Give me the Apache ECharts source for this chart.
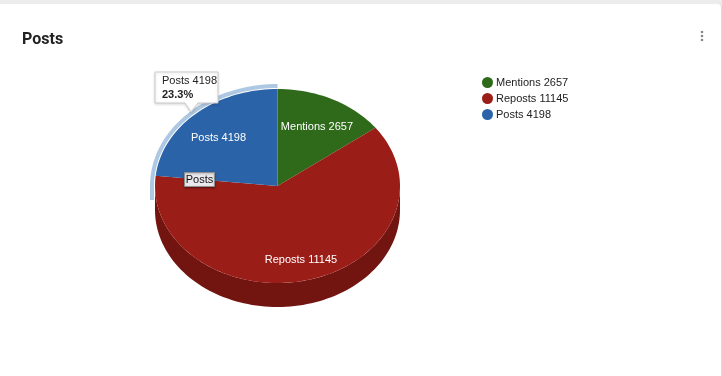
<!DOCTYPE html>
<html>
<head>
<meta charset="utf-8">
<script src="https://cdn.jsdelivr.net/npm/echarts@6/dist/echarts.min.js"></script>
<style>
  html, body { margin: 0; padding: 0; background: #ececec; }
  .card {
    position: absolute; left: -2px; top: 4px; width: 723px; height: 380px;
    background: #fff; border-right: 1px solid #dcdcdc; border-radius: 4px;
  }
  #chart { position: absolute; left: 0; top: 0; width: 722px; height: 376px; }
</style>
</head>
<body>
<div class="card"></div>
<div id="chart"></div>
<script>
// slice data
var names = ["Mentions", "Reposts", "Posts"];
var values = [2657, 11145, 4198];
var colors = ["#2e6a1a", "#9b1d18", "#2a63a8"];
var sideColors = ["#1f4a12", "#721510", "#1d4677"];
var hoverIndex = 2;

var total = values.reduce(function (a, b) { return a + b; }, 0);
var starts = [];
var acc = 0;
values.forEach(function (v) { starts.push(acc); acc += v; });

// pie geometry (pixels)
var cx = 277.5, cy = 186, rx = 122.5, ry = 97, depth = 24;

function pt(deg, ox, oy, dy) {
  var t = deg * Math.PI / 180;
  return [cx + ox * Math.sin(t), cy + (dy || 0) - oy * Math.cos(t)];
}
function arc(a0, a1, ox, oy, dy) {
  var pts = [];
  var n = Math.max(2, Math.ceil(Math.abs(a1 - a0) / 2));
  for (var i = 0; i <= n; i++) {
    pts.push(pt(a0 + (a1 - a0) * i / n, ox, oy, dy));
  }
  return pts;
}

function renderSlice(idx) {
  return function (params, api) {
    var a0 = api.value(0) / total * 360;
    var a1 = (api.value(0) + api.value(1)) / total * 360;
    var children = [];
    // side wall (front half only)
    var lo = Math.max(a0, 90), hi = Math.min(a1, 270);
    if (lo < hi) {
      var side = arc(lo, hi, rx, ry, 0).concat(arc(hi, lo, rx, ry, depth));
      children.push({ type: 'polygon', shape: { points: side }, style: { fill: sideColors[idx] } });
    }
    // top face
    var top = [[cx, cy]].concat(arc(a0, a1, rx, ry, 0));
    children.push({ type: 'polygon', shape: { points: top }, style: { fill: colors[idx] } });
    // hover ring
    if (idx === hoverIndex) {
      var outer = arc(a1, 270, rx + 5, ry + 5, 0);
      var inner = arc(270, a1, rx + 1, ry + 1, 0);
      var ring = outer.concat([[cx - rx - 5, cy + 14], [cx - rx - 1, cy + 14]]).concat(inner);
      children.push({ type: 'polygon', shape: { points: ring }, style: { fill: '#aec8e3' } });
    }
    // label
    var mid = (a0 + a1) / 2;
    var down = Math.cos(mid * Math.PI / 180) < 0 ? depth * 0.2 : 0;
    var lp = pt(mid, rx * 0.72, ry * 0.71, 3 + down);
    children.push({
      type: 'text', x: lp[0], y: lp[1],
      style: {
        text: names[idx] + ' ' + values[idx], fill: '#fff',
        font: '11px "Liberation Sans", Arial, sans-serif',
        align: 'center', verticalAlign: 'middle'
      }
    });
    return { type: 'group', children: children };
  };
}

var series = names.map(function (n, i) {
  return {
    name: n + ' ' + values[i],
    type: 'custom',
    coordinateSystem: 'none',
    silent: true,
    animation: false,
    itemStyle: { color: colors[i] },
    z: i === hoverIndex ? 3 : 2,
    renderItem: renderSlice(i),
    data: [[starts[i], values[i]]]
  };
});

var pct = (values[hoverIndex] / total * 100).toFixed(1) + '%';
var txt = '"Liberation Sans", Arial, sans-serif';

var chart = echarts.init(document.getElementById('chart'));
chart.setOption({
  animation: false,
  title: {
    text: 'Posts', left: 17, top: 27,
    textStyle: { fontFamily: 'Roboto', fontWeight: 'bold', fontSize: 16, color: '#222' }
  },
  legend: {
    orient: 'vertical', left: 477, top: 72,
    icon: 'circle', itemWidth: 11, itemHeight: 11, itemGap: 5,
    selectedMode: false,
    textStyle: { fontFamily: txt, fontSize: 11, color: '#222', padding: [0, 0, 0, -2] }
  },
  series: series,
  graphic: [
    // menu dots
    { type: 'circle', id: 'd1', shape: { cx: 702, cy: 32, r: 1.3 }, style: { fill: '#888' } },
    { type: 'circle', id: 'd2', shape: { cx: 702, cy: 36, r: 1.3 }, style: { fill: '#888' } },
    { type: 'circle', id: 'd3', shape: { cx: 702, cy: 40, r: 1.3 }, style: { fill: '#888' } },
    // tooltip box
    { type: 'polygon', id: 'tipBox', z: 100,
      shape: { points: [[155, 72], [218, 72], [218, 103], [198, 103], [191, 112], [185, 103], [155, 103]] },
      style: { fill: '#fff', stroke: '#ccc', lineWidth: 1, shadowBlur: 3, shadowColor: 'rgba(0,0,0,0.15)', shadowOffsetY: 1 } },
    { type: 'text', id: 'tipName', z: 101, x: 162, y: 81,
      style: { text: names[hoverIndex] + ' ' + values[hoverIndex], fill: '#222', font: '11px ' + txt, verticalAlign: 'middle' } },
    { type: 'text', id: 'tipPct', z: 101, x: 162, y: 95,
      style: { text: pct, fill: '#222', font: 'bold 11px ' + txt, verticalAlign: 'middle' } },
    // hover title box
    { type: 'rect', id: 'hoverBox', z: 100,
      shape: { x: 184.5, y: 172.5, width: 30, height: 14 },
      style: { fill: '#ebe9ee', stroke: '#8f8f8f', lineWidth: 1, shadowBlur: 2, shadowColor: 'rgba(0,0,0,0.3)', shadowOffsetY: 1 } },
    { type: 'text', id: 'hoverText', z: 101, x: 199.5, y: 180,
      style: { text: names[hoverIndex], fill: '#111', font: '11px ' + txt, align: 'center', verticalAlign: 'middle' } }
  ]
});
</script>
</body>
</html>
